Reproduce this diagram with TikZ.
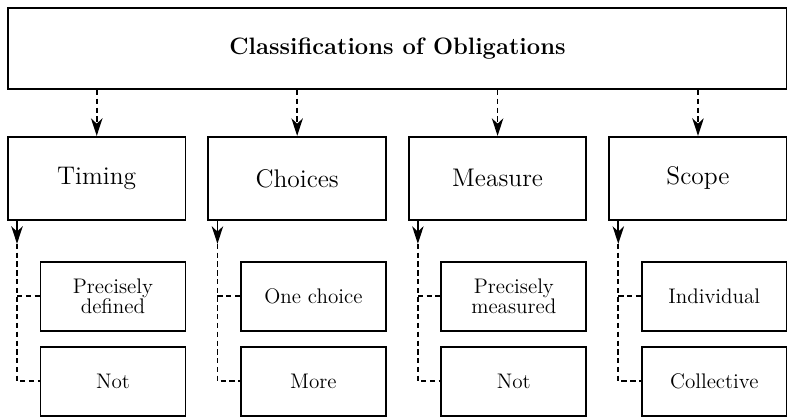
\documentclass[tikz,border=0pt]{standalone}
\usepackage{tikz}
\usetikzlibrary{arrows.meta,positioning,calc}

\begin{document}
\begin{tikzpicture}[auto, >={Stealth[length=10pt, width=6.5pt, inset=3pt]}]
        % Style definitions
        \tikzset{
            topblock/.style={draw, rectangle, minimum width=15.58cm, minimum height=1.62cm, line width=1.1pt, font=\fontsize{13.5}{15}\selectfont\bfseries},
            catblock/.style={draw, rectangle, minimum width=3.55cm, minimum height=1.66cm, line width=1.1pt, font=\fontsize{14.5}{16}\selectfont},
            subblock/.style={draw, rectangle, minimum width=2.9cm, minimum height=1.38cm, align=center, line width=1.1pt, font=\fontsize{12}{11.5}\selectfont},
            link/.style={dash pattern=on 3pt off 2pt, line width=1pt}
        }

        % Frame
        \useasboundingbox (0,0) rectangle (15.74,-8.34);

        % Nodes
        \node [topblock, anchor=north west] (title) at (0.14,-0.14) {Classifications of Obligations};

        % Categories
        \node [catblock, below=0.92cm of title.south west, anchor=north west] (timing) {Timing};
        \node [catblock, right=0.42cm of timing] (choices) {Choices};
        \node [catblock, right=0.42cm of choices] (measure) {Measure};
        \node [catblock, right=0.42cm of measure] (scope) {Scope};

        % Sub blocks (right aligned under each category)
        \node [subblock, below=0.8cm of timing.south east, anchor=north east] (preciseDef) {Precisely\\defined};
        \node [subblock, below=0.28cm of preciseDef] (notDef) {Not};
        \node [subblock, below=0.8cm of choices.south east, anchor=north east] (oneChoice) {One choice};
        \node [subblock, below=0.28cm of oneChoice] (moreChoice) {More};
        \node [subblock, below=0.8cm of measure.south east, anchor=north east] (preciseMeas) {Precisely\\measured};
        \node [subblock, below=0.28cm of preciseMeas] (notMeas) {Not};
        \node [subblock, below=0.8cm of scope.south east, anchor=north east] (individual) {Individual};
        \node [subblock, below=0.28cm of individual] (collective) {Collective};

        % Connections
        % Title to categories
        \draw [link, ->] (title.south -| timing.north) -- (timing.north);
        \draw [link, ->] (title.south -| choices.north) -- (choices.north);
        \draw [link, ->] (title.south -| measure.north) -- (measure.north);
        \draw [link, ->] (title.south -| scope.north) -- (scope.north);

        % Timing trunk
        \coordinate (timingTop) at ($(timing.south west) + (0.2,0)$);
        \coordinate (timingTip) at ($(timingTop) + (0,-0.46)$);
        \draw [->, line width=1pt] (timingTop) -- (timingTip);
        \draw [link] (timingTip) |- (notDef.west);
        \draw [link] (timingTip |- preciseDef.west) -- (preciseDef.west);

        % Choices trunk
        \coordinate (choicesTop) at ($(choices.south west) + (0.2,0)$);
        \coordinate (choicesTip) at ($(choicesTop) + (0,-0.46)$);
        \draw [->, line width=1pt] (choicesTop) -- (choicesTip);
        \draw [link] (choicesTip) |- (moreChoice.west);
        \draw [link] (choicesTip |- oneChoice.west) -- (oneChoice.west);

        % Measure trunk
        \coordinate (measureTop) at ($(measure.south west) + (0.2,0)$);
        \coordinate (measureTip) at ($(measureTop) + (0,-0.46)$);
        \draw [->, line width=1pt] (measureTop) -- (measureTip);
        \draw [link] (measureTip) |- (notMeas.west);
        \draw [link] (measureTip |- preciseMeas.west) -- (preciseMeas.west);

        % Scope trunk
        \coordinate (scopeTop) at ($(scope.south west) + (0.2,0)$);
        \coordinate (scopeTip) at ($(scopeTop) + (0,-0.46)$);
        \draw [->, line width=1pt] (scopeTop) -- (scopeTip);
        \draw [link] (scopeTip) |- (collective.west);
        \draw [link] (scopeTip |- individual.west) -- (individual.west);
    \end{tikzpicture}
\end{document}
